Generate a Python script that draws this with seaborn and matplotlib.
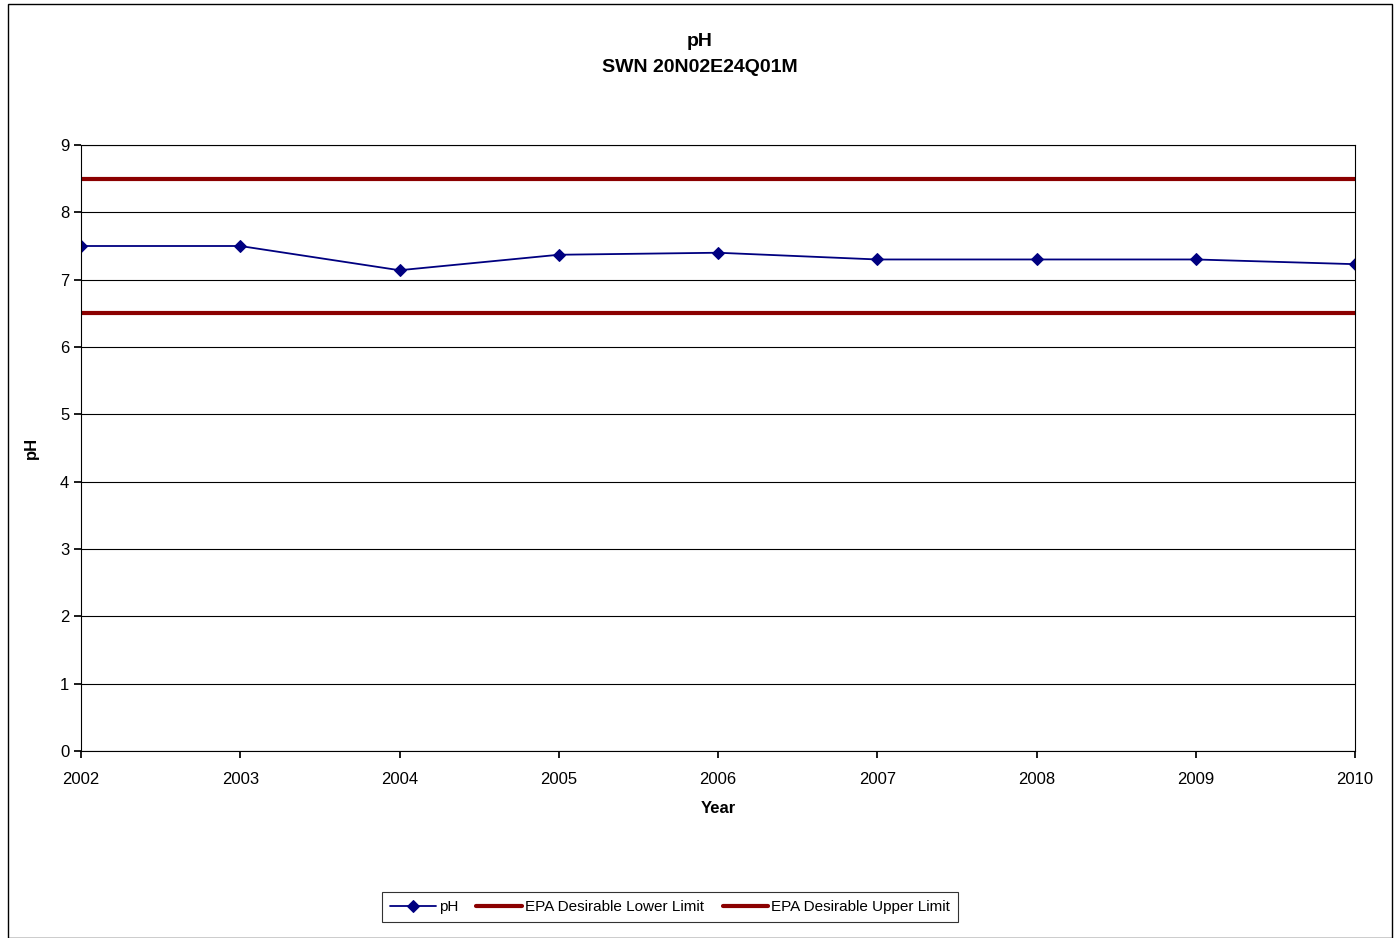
import matplotlib
matplotlib.use("Agg")
import matplotlib.pyplot as plt
import seaborn as sns
import pandas as pd
from matplotlib.patches import Rectangle

years = [2002, 2003, 2004, 2005, 2006, 2007, 2008, 2009, 2010]
ph_values = [7.5, 7.5, 7.14, 7.37, 7.4, 7.3, 7.3, 7.3, 7.23]
lower_limit = 6.5
upper_limit = 8.5

sns.set_theme(style="white")
plt.rcParams['font.family'] = ['Liberation Sans', 'DejaVu Sans']
plt.rcParams['text.color'] = 'black'
plt.rcParams['axes.labelcolor'] = 'black'
plt.rcParams['xtick.color'] = 'black'
plt.rcParams['ytick.color'] = 'black'

df = pd.DataFrame({"Year": years, "pH": ph_values})

fig = plt.figure(figsize=(13.99, 9.38), dpi=100)
ax = fig.add_axes([81 / 1399, 1 - 751 / 938, (1355 - 81) / 1399, (751 - 145) / 938])

fig.patches.append(Rectangle((8 / 1399, 0), (1392 - 8) / 1399, 1 - 4 / 938,
                             transform=fig.transFigure, fill=False, edgecolor="black", linewidth=1))

sns.lineplot(data=df, x="Year", y="pH", ax=ax, color="#000080", marker="D",
             markersize=6, markeredgecolor="#000080", linewidth=1.3, label="pH")
ax.plot([years[0], years[-1]], [lower_limit] * 2, color="#8B0000", linewidth=3,
        label="EPA Desirable Lower Limit")
ax.plot([years[0], years[-1]], [upper_limit] * 2, color="#8B0000", linewidth=3,
        label="EPA Desirable Upper Limit")

ax.set_xlim(2002, 2010)
ax.set_ylim(0, 9)
ax.set_xticks(years)
ax.set_yticks(range(0, 10))
ax.grid(axis="y", color="black", linewidth=0.8)
ax.tick_params(axis="both", labelsize=12, direction="out", length=5, color="black", left=True, bottom=True)
ax.tick_params(axis="x", pad=10)
for s in ax.spines.values():
    s.set_color("black")
    s.set_linewidth(0.8)

ax.set_xlabel("Year", fontsize=12, fontweight="bold", labelpad=10)
ax.set_ylabel("pH", fontsize=12, fontweight="bold", labelpad=15)
fig.text(0.5, 1 - 42 / 938, "pH", ha="center", va="center", fontsize=14, fontweight="bold")
fig.text(0.5, 1 - 67 / 938, "SWN 20N02E24Q01M", ha="center", va="center", fontsize=14, fontweight="bold")

leg = ax.legend(loc="center", bbox_to_anchor=(670 / 1399, 1 - 907 / 938), bbox_transform=fig.transFigure,
                ncol=3, fontsize=11, frameon=True, fancybox=False, edgecolor="black",
                handlelength=3, columnspacing=1.2, handletextpad=0.2, borderpad=0.5)
leg.get_frame().set_linewidth(0.8)

fig.savefig("out.png", dpi=100)
